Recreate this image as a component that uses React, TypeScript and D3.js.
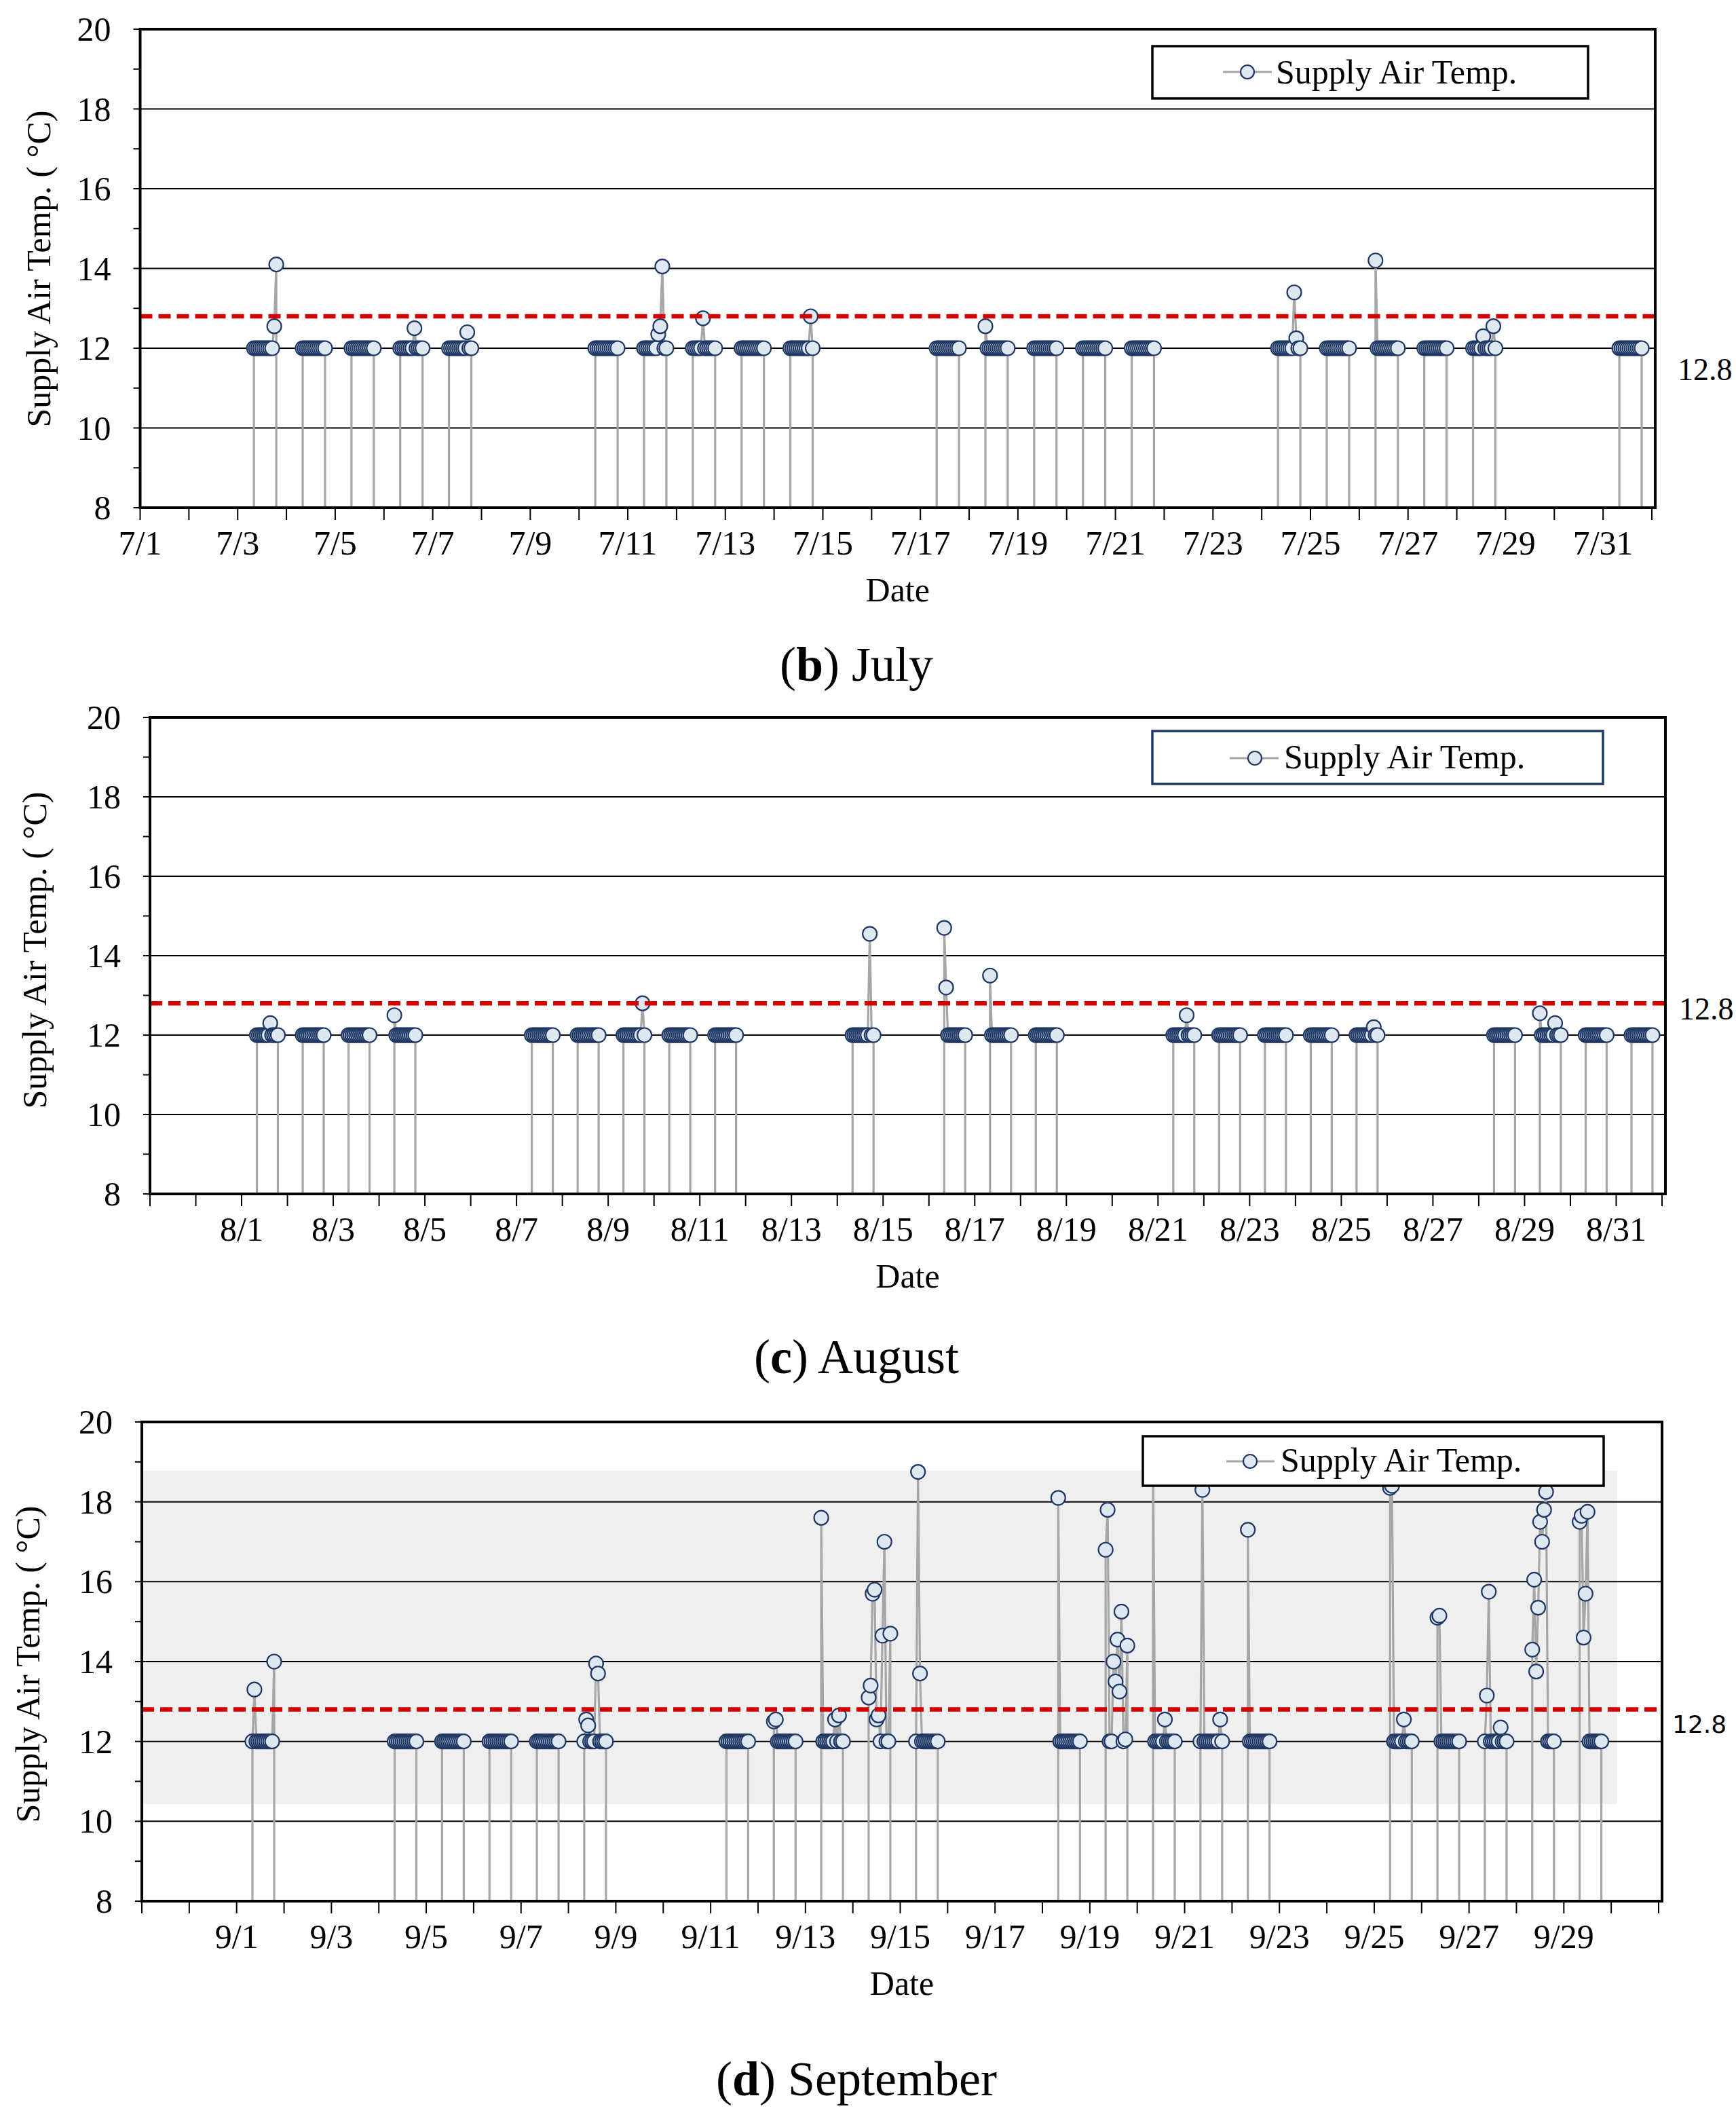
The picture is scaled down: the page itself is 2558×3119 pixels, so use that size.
import React from "react";
import * as d3 from "d3";

// 2017: weekdays only, AHU switched off nights / weekends
const YEAR = 2017;
const HOURS = [8, 9, 10, 11, 12, 13, 14, 15, 16, 17, 18, 19];
const FLAT = [12, 12, 12, 12, 12, 12, 12, 12, 12, 12, 12, 12];
const THRESHOLD = 12.8;
const OFF = 0; // value when the unit is off (falls below the axis)
const Y_MAJOR = [8, 10, 12, 14, 16, 18, 20];
const Y_GRID = [10, 12, 14, 16, 18];

const JULY_DAYS = [3, 4, 5, 6, 7, 10, 11, 12, 13, 14, 17, 18, 19, 20, 21, 24, 25, 26, 27, 28, 31];
const JULY_VALUES = [
  [12, 12, 12, 12, 12, 12, 12, 12, 12, 12, 12.55, 14.1],
  FLAT,
  FLAT,
  [12, 12, 12, 12, 12, 12, 12, 12.5, 12, 12, 12, 12],
  [12, 12, 12, 12, 12, 12, 12, 12, 12, 12.4, 12, 12],
  FLAT,
  [12, 12, 12, 12, 12, 12, 12, 12.35, 12.55, 14.05, 12, 12],
  [12, 12, 12, 12, 12, 12.75, 12, 12, 12, 12, 12, 12],
  FLAT,
  [12, 12, 12, 12, 12, 12, 12, 12, 12, 12, 12.8, 12],
  FLAT,
  [12.55, 12, 12, 12, 12, 12, 12, 12, 12, 12, 12, 12],
  FLAT,
  FLAT,
  FLAT,
  [12, 12, 12, 12, 12, 12, 12, 12, 13.4, 12.25, 12, 12],
  FLAT,
  [14.2, 12, 12, 12, 12, 12, 12, 12, 12, 12, 12, 12],
  FLAT,
  [12, 12, 12, 12, 12, 12.3, 12, 12, 12, 12, 12.55, 12],
  FLAT,
];

const AUG_DAYS = [1, 2, 3, 4, 7, 8, 9, 10, 11, 14, 16, 17, 18, 21, 22, 23, 24, 25, 28, 29, 30, 31];
const AUG_VALUES = [
  [12, 12, 12, 12, 12, 12, 12, 12.3, 12, 12, 12, 12],
  FLAT,
  FLAT,
  [12.5, 12, 12, 12, 12, 12, 12, 12, 12, 12, 12, 12],
  FLAT,
  FLAT,
  [12, 12, 12, 12, 12, 12, 12, 12, 12, 12, 12.8, 12],
  FLAT,
  FLAT,
  [12, 12, 12, 12, 12, 12, 12, 12, 12, 14.55, 12, 12],
  [14.7, 13.2, 12, 12, 12, 12, 12, 12, 12, 12, 12, 12],
  [13.5, 12, 12, 12, 12, 12, 12, 12, 12, 12, 12, 12],
  FLAT,
  [12, 12, 12, 12, 12, 12, 12, 12.5, 12, 12, 12, 12],
  FLAT,
  FLAT,
  FLAT,
  [12, 12, 12, 12, 12, 12, 12, 12, 12, 12.2, 12, 12],
  FLAT,
  [12.55, 12, 12, 12, 12, 12, 12, 12, 12.3, 12, 12, 12],
  FLAT,
  FLAT,
];

const SEP_DAYS = [1, 4, 5, 6, 7, 8, 11, 12, 13, 14, 15, 18, 19, 20, 21, 22, 25, 26, 27, 28, 29];
const SEP_VALUES = [
  [12, 13.3, 12, 12, 12, 12, 12, 12, 12, 12, 12, 14.0],
  FLAT,
  FLAT,
  FLAT,
  FLAT,
  [12, 12.55, 12.4, 12, 12, 12, 13.95, 13.7, 12, 12, 12, 12],
  FLAT,
  [12.5, 12.55, 12, 12, 12, 12, 12, 12, 12, 12, 12, 12],
  [17.6, 12, 12, 12, 12, 12, 12, 12.55, 12, 12.65, 12, 12],
  [13.1, 13.4, 15.7, 15.8, 12.55, 12.65, 12, 14.65, 17.0, 12, 12, 14.7],
  [12, 18.75, 13.7, 12, 12, 12, 12, 12, 12, 12, 12, 12],
  [18.1, 12, 12, 12, 12, 12, 12, 12, 12, 12, 12, 12],
  [16.8, 17.8, 12, 12, 14.0, 13.5, 14.55, 13.25, 15.25, 12, 12.05, 14.4],
  [19.2, 12, 12, 12, 12, 12, 12.55, 12, 12, 12, 12, 12],
  [12, 18.3, 12, 12, 12, 12, 12, 12, 12, 12, 12.55, 12],
  [17.3, 12, 12, 12, 12, 12, 12, 12, 12, 12, 12, 12],
  [18.35, 18.4, 12, 12, 12, 12, 12, 12.55, 12, 12, 12, 12],
  [15.1, 15.15, 12, 12, 12, 12, 12, 12, 12, 12, 12, 12],
  [12, 13.15, 15.75, 12, 12, 12, 12, 12, 12.35, 12, 12, 12],
  [14.3, 16.05, 13.75, 15.35, 17.5, 17.0, 17.8, 18.25, 12, 12, 12, 12],
  [17.5, 17.65, 14.6, 15.7, 17.75, 12, 12, 12, 12, 12, 12, 12],
];
// shaded band in the September panel
const SEP_BAND_LOW = 10.43;
const SEP_BAND_HIGH = 18.78;
const SEP_BAND_END = new Date(Date.UTC(YEAR, 8, 30, 3));

const SERIF = "'Liberation Serif', 'Times New Roman', serif";
const SANS = "'DejaVu Sans', Verdana, sans-serif";
const LINE_GRAY = "#a6a6a6";
const DOT_FILL = "#dfe7f1";
const DOT_STROKE = "#1f3864";

const PANELS = [
  {
    id: "jul",
    month: 7,
    days: JULY_DAYS,
    values: JULY_VALUES,
    start: new Date(Date.UTC(YEAR, 6, 1)),
    end: new Date(Date.UTC(YEAR, 7, 1)),
    left: 206.5, xEndPx: 2434, right: 2439, top: 43, bottom: 748,
    titleX: 57, titleY: 396,
    legend: { x0: 1698, y0: 68, x1: 2340, y1: 145, stroke: "#000", l0: 1802, l1: 1874, ly: 106, dot: 1838, tx: 1880, ty: 123 },
    caption: { letter: "b", text: " July", y: 1003 },
    thr: { x: 2472, y: 560, font: SERIF, size: 46 },
    band: false,
  },
  {
    id: "aug",
    month: 8,
    days: AUG_DAYS,
    values: AUG_VALUES,
    start: new Date(Date.UTC(YEAR, 6, 30)),
    end: new Date(Date.UTC(YEAR, 8, 1)),
    left: 221, xEndPx: 2449, right: 2454, top: 1057, bottom: 1759,
    titleX: 51, titleY: 1400,
    legend: { x0: 1698, y0: 1077, x1: 2362, y1: 1155, stroke: "#1f3864", l0: 1812, l1: 1884, ly: 1117, dot: 1849, tx: 1892, ty: 1132 },
    caption: { letter: "c", text: " August", y: 2023 },
    thr: { x: 2474, y: 1502, font: SERIF, size: 46 },
    band: false,
  },
  {
    id: "sep",
    month: 9,
    days: SEP_DAYS,
    values: SEP_VALUES,
    start: new Date(Date.UTC(YEAR, 7, 30)),
    end: new Date(Date.UTC(YEAR, 9, 1)),
    left: 209, xEndPx: 2444, right: 2449, top: 2095, bottom: 2801,
    titleX: 41, titleY: 2452,
    legend: { x0: 1684, y0: 2116, x1: 2363, y1: 2189, stroke: "#000", l0: 1807, l1: 1878, ly: 2153, dot: 1842, tx: 1887, ty: 2168 },
    caption: { letter: "d", text: " September", y: 3087 },
    thr: { x: 2464, y: 2553, font: SANS, size: 36 },
    band: true,
  },
];

function Panel({ p }) {
  const x = d3.scaleUtc().domain([p.start, p.end]).range([p.left, p.xEndPx]);
  const y = d3.scaleLinear().domain([8, 20]).range([p.bottom, p.top]);
  const line = d3
    .line<[Date, number]>()
    .x((d) => x(d[0]))
    .y((d) => y(d[1]));

  const series = p.days.map((day, i) =>
    HOURS.map((h, j) => [new Date(Date.UTC(YEAR, p.month - 1, day, h)), p.values[i][j]] as [Date, number])
  );

  const dayTicks = d3.utcDay.range(p.start, d3.utcDay.offset(p.end, 1));
  const minor = y.ticks(12);
  const clipId = `clip-${p.id}`;
  const lg = p.legend;

  return (
    <g>
      <defs>
        <clipPath id={clipId}>
          <rect x={p.left} y={p.top} width={p.right - p.left} height={p.bottom - p.top} />
        </clipPath>
      </defs>

      {p.band && (
        <rect
          x={x(p.start)}
          y={y(SEP_BAND_HIGH)}
          width={x(SEP_BAND_END) - x(p.start)}
          height={y(SEP_BAND_LOW) - y(SEP_BAND_HIGH)}
          fill="#efefef"
        />
      )}

      {Y_GRID.map((v) => (
        <line key={v} x1={p.left} x2={p.right} y1={y(v)} y2={y(v)} stroke="#000" strokeWidth={2} />
      ))}

      <g clipPath={`url(#${clipId})`}>
        {series.map((pts, i) => {
          const path = [[pts[0][0], OFF] as [Date, number], ...pts, [pts[pts.length - 1][0], OFF] as [Date, number]];
          return <path key={i} d={line(path) || ""} fill="none" stroke={LINE_GRAY} strokeWidth={3.2} />;
        })}
        {series.map((pts, i) =>
          pts.map((d, j) => (
            <circle
              key={`${i}-${j}`}
              cx={x(d[0])}
              cy={y(d[1])}
              r={10.5}
              fill={DOT_FILL}
              stroke={DOT_STROKE}
              strokeWidth={2.2}
            />
          ))
        )}
        <line
          x1={p.left}
          x2={p.right}
          y1={y(THRESHOLD)}
          y2={y(THRESHOLD)}
          stroke="#d40000"
          strokeWidth={6.5}
          strokeDasharray="18 9"
        />
      </g>

      <rect
        x={p.left}
        y={p.top}
        width={p.right - p.left}
        height={p.bottom - p.top}
        fill="none"
        stroke="#000"
        strokeWidth={4}
      />

      {minor.map((v) => (
        <line key={v} x1={p.left - 10} x2={p.left} y1={y(v)} y2={y(v)} stroke="#000" strokeWidth={2} />
      ))}
      {Y_MAJOR.map((v) => (
        <text key={v} x={p.left - 43} y={y(v) + 17} textAnchor="end" fontFamily={SERIF} fontSize={50}>
          {v}
        </text>
      ))}

      {dayTicks.map((t) => (
        <line key={+t} x1={x(t)} x2={x(t)} y1={p.bottom} y2={p.bottom + 18} stroke="#000" strokeWidth={2} />
      ))}
      {dayTicks
        .filter((t) => t.getUTCMonth() === p.month - 1 && t.getUTCDate() % 2 === 1)
        .map((t) => (
          <text key={+t} x={x(t)} y={p.bottom + 69} textAnchor="middle" fontFamily={SERIF} fontSize={50}>
            {`${p.month}/${t.getUTCDate()}`}
          </text>
        ))}

      <text
        transform={`translate(${p.titleX},${p.titleY}) rotate(-90)`}
        textAnchor="middle"
        dominantBaseline="central"
        fontFamily={SERIF}
        fontSize={50}
      >
        Supply Air Temp. ( °C)
      </text>
      <text x={(p.left + p.right) / 2} y={p.bottom + 138} textAnchor="middle" fontFamily={SERIF} fontSize={50}>
        Date
      </text>

      <text x={p.thr.x} y={p.thr.y} fontFamily={p.thr.font} fontSize={p.thr.size}>
        {THRESHOLD}
      </text>

      <rect
        x={lg.x0}
        y={lg.y0}
        width={lg.x1 - lg.x0}
        height={lg.y1 - lg.y0}
        fill="#fff"
        stroke={lg.stroke}
        strokeWidth={3.5}
      />
      <line x1={lg.l0} x2={lg.l1} y1={lg.ly} y2={lg.ly} stroke={LINE_GRAY} strokeWidth={3.2} />
      <circle cx={lg.dot} cy={lg.ly} r={10} fill={DOT_FILL} stroke={DOT_STROKE} strokeWidth={2.2} />
      <text x={lg.tx} y={lg.ty} fontFamily={SERIF} fontSize={50}>
        Supply Air Temp.
      </text>

      <text x={1262} y={p.caption.y} textAnchor="middle" fontFamily={SERIF} fontSize={72}>
        (<tspan fontWeight="bold">{p.caption.letter}</tspan>){p.caption.text}
      </text>
    </g>
  );
}

export default function App() {
  return (
    <svg
      width={2558}
      height={3119}
      style={{ position: "absolute", left: 0, top: 0, background: "#fff" }}
    >
      <rect width={2558} height={3119} fill="#fff" />
      {PANELS.map((p) => (
        <Panel key={p.id} p={p} />
      ))}
    </svg>
  );
}
